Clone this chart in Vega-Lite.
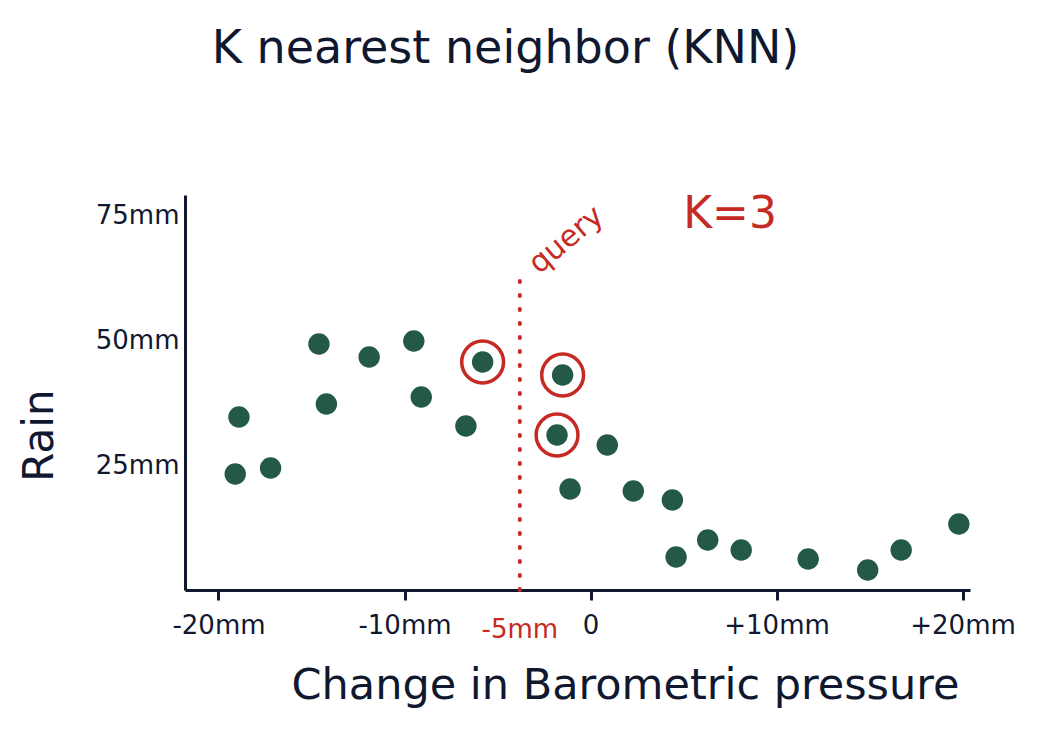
{
  "$schema": "https://vega.github.io/schema/vega-lite/v6.json",
  "autosize": "none",
  "width": 785,
  "height": 395,
  "padding": {"left": 185, "top": 195, "right": 86, "bottom": 164},
  "background": "white",
  "config": {"view": {"stroke": null}, "font": "DejaVu Sans"},
  "title": {
    "text": "K nearest neighbor (KNN)",
    "fontSize": 46,
    "fontWeight": "normal",
    "color": "#101830",
    "anchor": "middle",
    "offset": 120,
    "dx": -72
  },
  "datasets": {
    "points": [
      {"change": -19.1, "rain": 23.2, "neighbor": "no"},
      {"change": -18.9, "rain": 34.6, "neighbor": "no"},
      {"change": -17.2, "rain": 24.4, "neighbor": "no"},
      {"change": -14.6, "rain": 49.2, "neighbor": "no"},
      {"change": -14.2, "rain": 37.2, "neighbor": "no"},
      {"change": -11.9, "rain": 46.6, "neighbor": "no"},
      {"change": -9.5, "rain": 49.8, "neighbor": "no"},
      {"change": -9.1, "rain": 38.6, "neighbor": "no"},
      {"change": -6.7, "rain": 32.8, "neighbor": "no"},
      {"change": -5.8, "rain": 45.6, "neighbor": "yes"},
      {"change": -1.5, "rain": 43.0, "neighbor": "yes"},
      {"change": -1.8, "rain": 31.0, "neighbor": "yes"},
      {"change": 0.9, "rain": 29.0, "neighbor": "no"},
      {"change": -1.1, "rain": 20.2, "neighbor": "no"},
      {"change": 2.3, "rain": 19.8, "neighbor": "no"},
      {"change": 4.4, "rain": 18.0, "neighbor": "no"},
      {"change": 4.6, "rain": 6.6, "neighbor": "no"},
      {"change": 6.3, "rain": 10.0, "neighbor": "no"},
      {"change": 8.1, "rain": 8.0, "neighbor": "no"},
      {"change": 11.7, "rain": 6.2, "neighbor": "no"},
      {"change": 14.9, "rain": 4.0, "neighbor": "no"},
      {"change": 16.7, "rain": 8.0, "neighbor": "no"},
      {"change": 19.8, "rain": 13.2, "neighbor": "no"}
    ],
    "query": [{"change": -3.8, "y0": 0, "y1": 62}],
    "notes": [
      {"change": -3.8, "rain": -8, "label": "-5mm", "kind": "tick"},
      {"change": 7.5, "rain": 75, "label": "K=3", "kind": "k"}
    ]
  },
  "encoding": {
    "x": {
      "field": "change",
      "type": "quantitative",
      "scale": {"domain": [-21.8, 20.4], "nice": false, "zero": false},
      "axis": {
        "values": [-20, -10, 0, 10, 20],
        "labelExpr": "datum.value > 0 ? '+' + datum.value + 'mm' : (datum.value == 0 ? '0' : datum.value + 'mm')",
        "labelFontSize": 26,
        "labelColor": "#101830",
        "labelPadding": 12,
        "tickSize": 10,
        "tickWidth": 3,
        "tickColor": "#101830",
        "domainColor": "#101830",
        "domainWidth": 3,
        "grid": false,
        "title": "Change in Barometric pressure",
        "titleFontSize": 43,
        "titleFontWeight": "normal",
        "titleColor": "#101830",
        "titlePadding": 26,
        "titleX": 440
      }
    },
    "y": {
      "field": "rain",
      "type": "quantitative",
      "scale": {"domain": [0, 79], "nice": false},
      "axis": {
        "values": [25, 50, 75],
        "labelExpr": "datum.value + 'mm'",
        "labelFontSize": 26,
        "labelColor": "#101830",
        "labelPadding": 6,
        "ticks": false,
        "domainColor": "#101830",
        "domainWidth": 3,
        "grid": false,
        "title": "Rain",
        "titleFontSize": 42,
        "titleFontWeight": "normal",
        "titleColor": "#101830",
        "titlePadding": 34,
        "titleY": 240
      }
    }
  },
  "layer": [
    {
      "data": {"name": "query"},
      "mark": {"type": "rule", "color": "#c62a24", "strokeWidth": 4, "strokeDash": [1, 13], "strokeCap": "round"},
      "encoding": {
        "x": {"field": "change", "type": "quantitative"},
        "y": {"field": "y0", "type": "quantitative"},
        "y2": {"field": "y1"}
      }
    },
    {
      "data": {"name": "points"},
      "mark": {"type": "circle", "size": 460, "opacity": 1, "color": "#245a45"}
    },
    {
      "data": {"name": "points"},
      "transform": [{"filter": "datum.neighbor == 'yes'"}],
      "mark": {"type": "point", "shape": "circle", "size": 1750, "filled": false, "strokeWidth": 3.5, "color": "#c62a24", "opacity": 1}
    },
    {
      "data": {"name": "notes"},
      "transform": [{"filter": "datum.kind == 'tick'"}],
      "mark": {"type": "text", "fontSize": 26, "color": "#c62a24", "clip": false, "baseline": "middle"},
      "encoding": {"text": {"field": "label"}}
    },
    {
      "data": {"name": "notes"},
      "transform": [{"filter": "datum.kind == 'k'"}],
      "mark": {"type": "text", "fontSize": 44, "color": "#c62a24", "baseline": "middle"},
      "encoding": {"text": {"field": "label"}}
    },
    {
      "data": {"values": [{"change": -1.3, "rain": 70, "label": "query"}]},
      "mark": {"type": "text", "fontSize": 30, "color": "#c62a24", "angle": 320, "baseline": "middle"},
      "encoding": {"text": {"field": "label"}}
    }
  ]
}
